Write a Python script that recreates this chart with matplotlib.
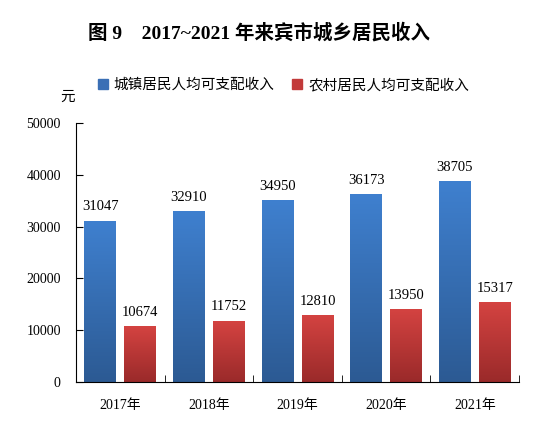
import numpy as np
from matplotlib import pyplot as plt
from matplotlib.colors import LinearSegmentedColormap
from matplotlib.patches import Patch

plt.rcParams['font.family'] = ['Liberation Serif', 'Noto Sans CJK SC']

years = ['2017年', '2018年', '2019年', '2020年', '2021年']
urban = [31047, 32910, 34950, 36173, 38705]
rural = [10674, 11752, 12810, 13950, 15317]
series_names = ['城镇居民人均可支配收入', '农村居民人均可支配收入']
yticks = [0, 10000, 20000, 30000, 40000, 50000]

blue_cmap = LinearSegmentedColormap.from_list('b', ['#2c5a93', '#3f80cf'])
red_cmap = LinearSegmentedColormap.from_list('r', ['#9a2a2a', '#d44341'])

fig = plt.figure(figsize=(5.47, 4.30), dpi=100)
ax = fig.add_axes([0.139, 0.1116, 0.810, 0.6024])

x = np.arange(len(years))
w = 0.36
off = 0.225
bars_u = ax.bar(x - off, urban, w, color='none')
bars_r = ax.bar(x + off, rural, w, color='none')

# vertical gradient fill for every bar
grad = np.linspace(0, 1, 256).reshape(-1, 1)
for bars, cmap in ((bars_u, blue_cmap), (bars_r, red_cmap)):
    for b in bars:
        x0, y0 = b.get_x(), b.get_y()
        ax.imshow(grad, extent=[x0, x0 + b.get_width(), y0, y0 + b.get_height()],
                  origin='lower', aspect='auto', cmap=cmap, zorder=2)

for bars, vals in ((bars_u, urban), (bars_r, rural)):
    for b, v in zip(bars, vals):
        ax.text(b.get_x() + b.get_width() / 2, v + 1500, str(v),
                ha='center', va='bottom', fontsize=10.5)

ax.set_xlim(-0.5, len(years) - 0.5)
ax.set_ylim(0, 50000)
ax.set_yticks(yticks)
ax.set_yticklabels([str(t) for t in yticks], fontsize=10)
ax.set_xticks(x)
ax.set_xticklabels(years, fontsize=10)
ax.set_xticks(np.arange(len(years) + 1) - 0.5, minor=True)
ax.tick_params(axis='x', which='major', length=0, pad=12)
ax.tick_params(axis='x', which='minor', direction='in', length=5)
ax.tick_params(axis='y', direction='in', length=5, pad=11)
ax.spines['top'].set_visible(False)
ax.spines['right'].set_visible(False)

fig.text(0.124, 0.775, '元', fontsize=10.5, ha='center', va='center',
         family=['Noto Sans CJK SC'])

handles = [Patch(color='#3a6fb5'), Patch(color='#c23a3a')]
fig.legend(handles, series_names, loc='center', bbox_to_anchor=(0.518, 0.802),
           ncol=2, frameon=False, handlelength=0.7, handleheight=0.7,
           handletextpad=0.4, columnspacing=1.2,
           prop={'family': 'Noto Sans CJK SC', 'size': 10.5})

fig.text(0.4735, 0.923, '图 9    2017~2021 年来宾市城乡居民收入', ha='center',
         va='center', fontsize=14, fontweight='bold',
         family=['Liberation Serif', 'Noto Sans CJK SC'])

fig.savefig('out.png', dpi=100)
